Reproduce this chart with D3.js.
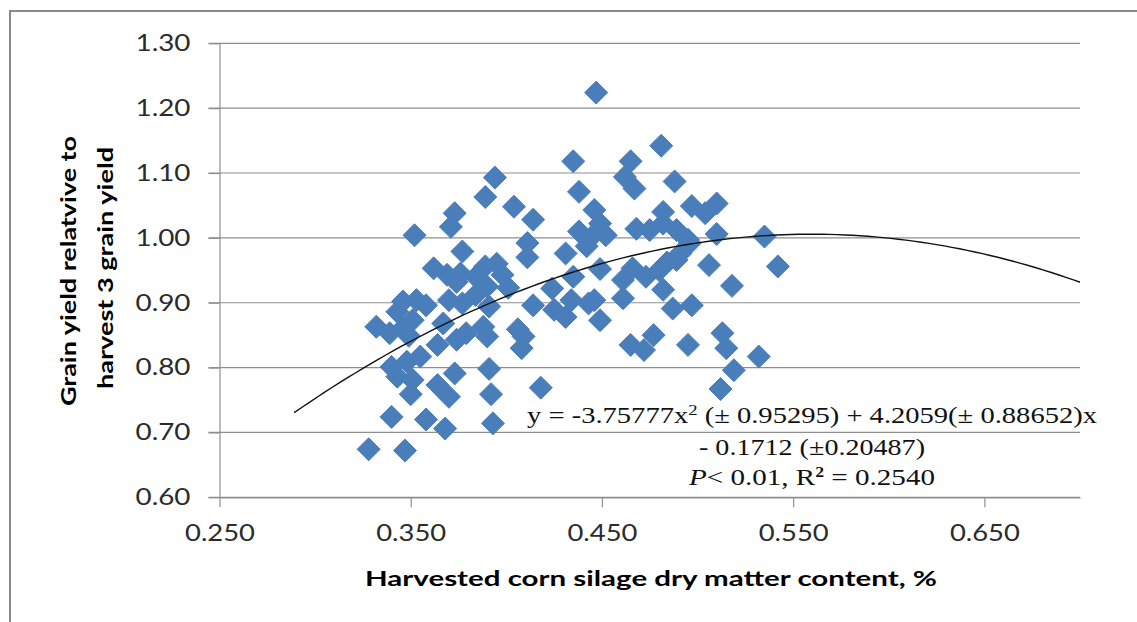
<!DOCTYPE html>
<html>
<head>
<meta charset="utf-8">
<script src="https://cdn.jsdelivr.net/npm/d3@7"></script>
<style>
  body { margin: 0; background: #fff; }
  svg text { font-family: Lato, "Open Sans", sans-serif; }
</style>
</head>
<body>
<div id="vis"></div>
<script>
(function run(){

  // tick values
  var xTicks = [0.25, 0.35, 0.45, 0.55, 0.65];
  var yTicks = [0.60, 0.70, 0.80, 0.90, 1.00, 1.10, 1.20, 1.30];

  // harvested dry matter content (x) and relative grain yield (y)
  var dryMatter = [
    0.328, 0.347, 0.340, 0.358, 0.340, 0.348, 0.355, 0.343, 0.351, 0.350,
    0.332, 0.339, 0.346, 0.351, 0.349, 0.346, 0.353, 0.358, 0.343, 0.352,
    0.362, 0.369, 0.376, 0.384, 0.389, 0.390, 0.370, 0.377, 0.384, 0.374,
    0.367, 0.364, 0.374, 0.379, 0.388, 0.390, 0.373, 0.364, 0.370, 0.391,
    0.392, 0.368, 0.393, 0.389, 0.373, 0.371, 0.377, 0.394, 0.395, 0.398,
    0.401, 0.391,
    0.404, 0.414, 0.411, 0.411, 0.414, 0.406, 0.409, 0.408, 0.418, 0.424,
    0.425, 0.431, 0.431, 0.434,
    0.447, 0.435, 0.438, 0.446, 0.449, 0.438, 0.444, 0.452, 0.442, 0.449,
    0.435, 0.446, 0.443, 0.449,
    0.481, 0.465, 0.462, 0.467, 0.488, 0.468, 0.475, 0.482, 0.482, 0.489,
    0.495, 0.466, 0.461, 0.473, 0.461, 0.465, 0.472, 0.489, 0.480, 0.482,
    0.487, 0.497, 0.477, 0.495, 0.497, 0.504, 0.496, 0.491, 0.484,
    0.510, 0.510, 0.535, 0.506, 0.542, 0.518, 0.513, 0.515, 0.532, 0.519,
    0.512
  ];
  var relYield = [
    0.674, 0.672, 0.724, 0.720, 0.801, 0.809, 0.817, 0.786, 0.781, 0.759,
    0.863, 0.853, 0.861, 0.873, 0.849, 0.902, 0.904, 0.896, 0.886, 1.004,
    0.953, 0.943, 0.945, 0.940, 0.956, 0.925, 0.904, 0.899, 0.912, 0.932,
    0.868, 0.835, 0.843, 0.853, 0.863, 0.848, 0.791, 0.773, 0.755, 0.798,
    0.759, 0.706, 0.714, 1.063, 1.038, 1.017, 0.979, 1.093, 0.960, 0.943,
    0.923, 0.894,
    1.048, 1.028, 0.992, 0.970, 0.896, 0.859, 0.848, 0.830, 0.769, 0.922,
    0.889, 0.976, 0.878, 0.904,
    1.224, 1.118, 1.071, 1.043, 1.022, 1.010, 1.000, 1.004, 0.987, 0.952,
    0.940, 0.904, 0.899, 0.873,
    1.142, 1.118, 1.094, 1.076, 1.087, 1.014, 1.012, 1.040, 1.022, 1.012,
    0.997, 0.953, 0.935, 0.940, 0.907, 0.835, 0.827, 0.966, 0.950, 0.920,
    0.891, 0.896, 0.850, 0.835, 1.049, 1.038, 0.992, 0.976, 0.962,
    1.053, 1.006, 1.002, 0.958, 0.956, 0.926, 0.853, 0.830, 0.817, 0.796,
    0.767
  ];

  // fitted quadratic shown on the chart: a*x^2 + b*x + c
  var trendCoef = [-3.75777, 4.2059, -0.1712];
  var trendSpan = [0.289, 0.70];

  var margin = { top: 43.3, right: 57, bottom: 124.7, left: 219.5 };
  var W = 1137, H = 622;
  var width = W - margin.left - margin.right;
  var height = H - margin.top - margin.bottom;

  var gridColor = "#8e8e8e";
  var dotColor = "#4a7ebb";

  var svg = d3.select("#vis")
    .append("svg")
      .attr("width", W)
      .attr("height", H);

  svg.append("rect")
    .attr("width", W).attr("height", H)
    .attr("fill", "#fff");

  // outer frame (runs off the right and bottom edges)
  svg.append("rect")
    .attr("x", 10).attr("y", 11)
    .attr("width", W + 20).attr("height", H + 20)
    .attr("fill", "none")
    .attr("stroke", "#8a8a8a")
    .attr("stroke-width", 2);

  var g = svg.append("g")
    .attr("transform", "translate(" + margin.left + "," + margin.top + ")");

  var x = d3.scaleLinear().domain([0.25, 0.70]).range([0, width]);
  var y = d3.scaleLinear().domain([0.60, 1.30]).range([height, 0]);

  // gridlines
  g.append("g")
    .selectAll("line")
    .data(yTicks)
    .enter()
    .append("line")
      .attr("x1", -11)
      .attr("x2", width)
      .attr("y1", function(d){ return y(d); })
      .attr("y2", function(d){ return y(d); })
      .attr("stroke", gridColor)
      .attr("stroke-width", 1.2);

  var yAxis = d3.axisLeft(y)
    .tickValues(yTicks)
    .tickFormat(d3.format(".2f"))
    .tickSize(11)
    .tickSizeOuter(0)
    .tickPadding(18);

  var xAxis = d3.axisBottom(x)
    .tickValues(xTicks)
    .tickFormat(d3.format(".3f"))
    .tickSize(10)
    .tickSizeOuter(0);

  var gy = g.append("g").attr("class", "y axis").call(yAxis);
  var gx = g.append("g").attr("class", "x axis")
    .attr("transform", "translate(0," + height + ")")
    .call(xAxis);

  [gx, gy].forEach(function(ax){
    ax.selectAll("path, line")
      .attr("stroke", gridColor)
      .attr("stroke-width", 1.2);
  });

  gy.selectAll("text")
    .style("font-size", "23px")
    .attr("fill", "#2b2b2b")
    .attr("textLength", 55)
    .attr("lengthAdjust", "spacingAndGlyphs");

  gx.selectAll("text")
    .style("font-size", "23px")
    .attr("fill", "#2b2b2b")
    .attr("y", 36)
    .attr("dy", "0.35em")
    .attr("textLength", 70)
    .attr("lengthAdjust", "spacingAndGlyphs");

  // points
  var pts = dryMatter.map(function(d, i){ return [d, relYield[i]]; });
  var r = 11.5;
  g.append("g")
    .selectAll("path")
    .data(pts)
    .enter()
    .append("path")
      .attr("transform", function(d){
        return "translate(" + x(d[0]) + "," + y(d[1]) + ")";
      })
      .attr("d", "M0," + (-r) + "L" + r + ",0L0," + r + "L" + (-r) + ",0Z")
      .attr("fill", dotColor)
      .attr("stroke", dotColor)
      .attr("stroke-width", 1)
      .attr("stroke-linejoin", "round");

  // trendline
  var trendX = d3.range(trendSpan[0], trendSpan[1], 0.004);
  trendX.push(trendSpan[1]);
  var line = d3.line()
    .x(function(d){ return x(d); })
    .y(function(d){ return y(trendCoef[0]*d*d + trendCoef[1]*d + trendCoef[2]); });

  g.append("path")
    .datum(trendX)
    .attr("d", line)
    .attr("fill", "none")
    .attr("stroke", "#111")
    .attr("stroke-width", 1.4);

  // equation
  var eq = svg.append("g")
    .style("font-size", "23px")
    .attr("fill", "#111");

  var l1 = eq.append("text")
    .attr("x", 812).attr("y", 423)
    .attr("text-anchor", "middle")
    .attr("textLength", 570)
    .attr("lengthAdjust", "spacingAndGlyphs")
    .style("font-family", "'Liberation Serif', serif");
  l1.append("tspan").text("y = -3.75777x");
  l1.append("tspan").attr("dy", -8).style("font-size", "15px").text("2");
  l1.append("tspan").attr("dy", 8).text(" (\u00b1 0.95295) + 4.2059(\u00b1 0.88652)x");

  eq.append("text")
    .attr("x", 812).attr("y", 455)
    .attr("text-anchor", "middle")
    .attr("textLength", 226)
    .attr("lengthAdjust", "spacingAndGlyphs")
    .style("font-family", "'Liberation Serif', serif")
    .text("- 0.1712 (\u00b10.20487)");

  var l3 = eq.append("text")
    .attr("x", 812).attr("y", 485)
    .attr("text-anchor", "middle")
    .attr("textLength", 246)
    .attr("lengthAdjust", "spacingAndGlyphs")
    .style("font-family", "'Liberation Serif', serif");
  l3.append("tspan").style("font-style", "italic").text("P");
  l3.append("tspan").text("< 0.01, R");
  l3.append("tspan").attr("dy", -8).style("font-size", "14px").style("font-weight", "bold").text("2");
  l3.append("tspan").attr("dy", 8).text(" = 0.2540");

  // axis titles
  svg.append("text")
    .attr("x", 651).attr("y", 586)
    .attr("text-anchor", "middle")
    .attr("textLength", 572)
    .attr("lengthAdjust", "spacingAndGlyphs")
    .style("font-size", "21px")
    .style("font-weight", "bold")
    .text("Harvested corn silage dry matter content, %");

  svg.append("text")
    .attr("transform", "translate(76,271) rotate(-90)")
    .attr("text-anchor", "middle")
    .attr("textLength", 270)
    .attr("lengthAdjust", "spacingAndGlyphs")
    .style("font-size", "21px")
    .style("font-weight", "bold")
    .text("Grain yield relatvive to");

  svg.append("text")
    .attr("transform", "translate(113,268) rotate(-90)")
    .attr("text-anchor", "middle")
    .attr("textLength", 242)
    .attr("lengthAdjust", "spacingAndGlyphs")
    .style("font-size", "21px")
    .style("font-weight", "bold")
    .text("harvest 3 grain yield");

})();
</script>
</body>
</html>
